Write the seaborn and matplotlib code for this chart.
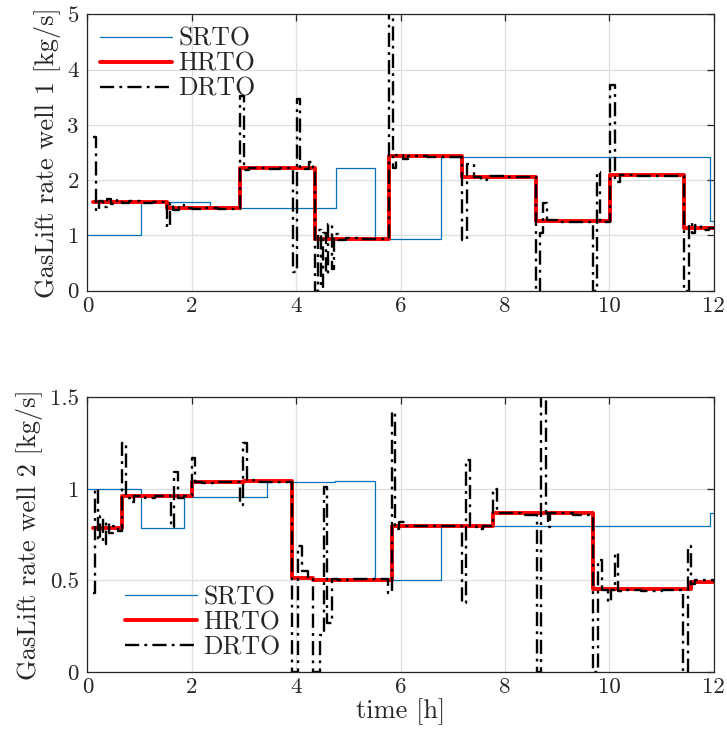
import numpy as np
import pandas as pd
import matplotlib
matplotlib.use("Agg")
import matplotlib.pyplot as plt
import seaborn as sns
from matplotlib.ticker import FuncFormatter

# ---------------- data: well 1 ----------------
srto1_t = [0, 1.02, 2.35, 4.76, 5.52, 6.77, 11.93, 12]
srto1_v = [1.0, 1.6, 1.49, 2.22, 0.94, 2.42, 1.26, 1.26]

hrto1_t = [0.1, 1.53, 2.93, 4.37, 5.77, 7.18, 8.59, 10.01, 11.43, 12]
hrto1_v = [1.6, 1.49, 2.22, 0.94, 2.43, 2.06, 1.26, 2.10, 1.13, 1.13]

drto1_t = [0.10, 0.16, 0.22, 0.30, 0.38, 0.46, 0.56, 0.66, 0.80, 1.00, 1.25,
           1.53, 1.58, 1.65, 1.75, 1.85, 2.00, 2.20, 2.50,
           2.93, 3.00, 3.10, 3.40, 3.70, 3.94, 4.02, 4.08, 4.25, 4.33,
           4.37, 4.42, 4.47, 4.52, 4.57, 4.62, 4.68, 4.73, 4.80, 4.95, 5.20,
           5.77, 5.85, 5.92, 6.05, 6.15, 6.50,
           7.18, 7.27, 7.40, 7.55, 7.65, 8.00,
           8.59, 8.68, 8.73, 8.80, 9.00,
           9.68, 9.76, 9.82,
           10.01, 10.10, 10.20, 10.50,
           11.43, 11.52, 11.58, 11.65, 11.75, 11.90, 12.0]
drto1_v = [2.78, 1.45, 1.62, 1.52, 1.66, 1.56, 1.64, 1.58, 1.62, 1.59, 1.61,
           1.16, 1.58, 1.46, 1.55, 1.50, 1.47, 1.50, 1.48,
           3.52, 2.18, 2.22, 2.20, 2.22, 0.34, 3.46, 2.20, 2.32, 2.20,
           0.0, 1.10, 0.05, 1.05, 0.30, 1.20, 0.40, 1.02, 0.92, 0.95, 0.94,
           5.60, 2.22, 2.45, 2.38, 2.43, 2.42,
           0.92, 2.30, 2.06, 2.01, 2.07, 2.06,
           0.0, 1.05, 1.58, 1.27, 1.25,
           0.0, 2.15, 1.25,
           3.72, 1.97, 2.10, 2.08,
           0.0, 1.22, 1.05, 1.18, 1.10, 1.13, 1.13]

# ---------------- data: well 2 ----------------
srto2_t = [0, 1.02, 1.86, 3.44, 4.75, 5.52, 6.77, 11.93, 12]
srto2_v = [1.0, 0.786, 0.956, 1.038, 1.044, 0.502, 0.798, 0.866, 0.866]

hrto2_t = [0.1, 0.67, 2.0, 3.0, 3.93, 4.33, 5.83, 7.78, 9.68, 11.57, 12]
hrto2_v = [0.786, 0.96, 1.04, 1.045, 0.515, 0.505, 0.80, 0.871, 0.451, 0.493, 0.493]

drto2_t = [0.10, 0.15, 0.20, 0.25, 0.30, 0.36, 0.42, 0.50, 0.58,
           0.67, 0.75, 0.82, 0.90, 1.10, 1.30,
           1.60, 1.67, 1.73, 1.85,
           2.00, 2.07, 2.20, 2.50,
           2.92, 2.98, 3.05, 3.20,
           3.93, 4.03, 4.12, 4.22, 4.33, 4.45, 4.53, 4.60, 4.68, 4.80, 5.00,
           5.76, 5.83, 5.90, 5.98, 6.10,
           7.17, 7.25, 7.33, 7.45, 7.52, 7.58, 7.78, 7.84, 8.00, 8.30,
           8.61, 8.70, 8.78, 8.82, 8.86, 9.00, 9.30,
           9.68, 9.78, 9.85, 9.97, 10.03, 10.10, 10.16, 10.30, 10.60, 11.00,
           11.42, 11.50, 11.56, 11.65, 12.0]
drto2_v = [0.43, 1.00, 0.72, 0.85, 0.70, 0.82, 0.76, 0.80, 0.77,
           1.25, 0.95, 0.93, 0.96, 0.95, 0.96,
           0.79, 1.09, 0.95, 0.96,
           1.17, 1.04, 1.03, 1.04,
           0.91, 1.25, 1.05, 1.04,
           0.0, 0.69, 0.55, 0.51, 0.0, 0.20, 1.01, 0.27, 0.51, 0.50, 0.51,
           0.43, 1.42, 0.78, 0.82, 0.80,
           0.375, 1.157, 0.80, 0.79, 0.78, 0.80, 1.00, 0.87, 0.87, 0.86,
           0.0, 1.60, 0.87, 0.79, 0.87, 0.87, 0.86,
           0.0, 0.61, 0.45, 0.38, 0.45, 0.65, 0.44, 0.45, 0.44, 0.45,
           0.0, 0.69, 0.48, 0.50, 0.49]

series_names = ["SRTO", "HRTO", "DRTO"]
ylabels = ["GasLift rate well 1 [kg/s]", "GasLift rate well 2 [kg/s]"]
xlabel = "time [h]"
xticks = [0, 2, 4, 6, 8, 10, 12]
yticks1 = [0, 1, 2, 3, 4, 5]
yticks2 = [0, 0.5, 1, 1.5]

# ---------------- style ----------------
sns.set_theme(style="white")
plt.rcParams["font.family"] = ["cmr10", "DejaVu Serif"]
plt.rcParams["mathtext.fontset"] = "cm"
plt.rcParams["axes.formatter.use_mathtext"] = True
plt.rcParams["axes.unicode_minus"] = False

colors = {"SRTO": "#0072BD", "HRTO": "#FF0000", "DRTO": "#000000"}
widths = {"SRTO": 0.9, "HRTO": 2.8, "DRTO": 1.7}
dashdot = (0, (6.0, 2.2, 1.2, 2.2))
styles = {"SRTO": "-", "HRTO": "-", "DRTO": dashdot}

fig = plt.figure(figsize=(7.27, 7.41), dpi=100)
ax1 = fig.add_axes([0.1201, 0.6077, 0.8617, 0.3730])
ax2 = fig.add_axes([0.1201, 0.0931, 0.8617, 0.3707])

panels = [
    (ax1, (srto1_t, srto1_v), (hrto1_t, hrto1_v), (drto1_t, drto1_v), (0, 5), yticks1),
    (ax2, (srto2_t, srto2_v), (hrto2_t, hrto2_v), (drto2_t, drto2_v), (0, 1.5), yticks2),
]

fmt = FuncFormatter(lambda v, p: f"{v:g}")

for i, (ax, s, h, d, ylim, yt) in enumerate(panels):
    for name, (tt, vv) in zip(series_names, [s, h, d]):
        df = pd.DataFrame({"t": tt, "v": vv})
        sns.lineplot(data=df, x="t", y="v", ax=ax, estimator=None, sort=False,
                     drawstyle="steps-post", color=colors[name],
                     linewidth=widths[name], linestyle=styles[name],
                     label=name, clip_on=True)
    ax.set_xlim(0, 12)
    ax.set_ylim(*ylim)
    ax.set_xticks(xticks)
    ax.set_yticks(yt)
    ax.xaxis.set_major_formatter(fmt)
    ax.yaxis.set_major_formatter(fmt)
    ax.grid(True, color="#dedede", linewidth=0.9)
    ax.set_axisbelow(True)
    for sp in ax.spines.values():
        sp.set_color("#262626")
        sp.set_linewidth(0.9)
    ax.tick_params(direction="in", top=True, right=True, length=5,
                   width=0.9, color="#262626", labelsize=16.5, labelcolor="#262626")
    ax.tick_params(axis="x", pad=4)
    ax.tick_params(axis="y", pad=6)
    ax.set_ylabel(ylabels[i], fontsize=19, color="#262626", labelpad=5)
    ax.set_xlabel("")

ax2.set_xlabel(xlabel, fontsize=19, color="#262626", labelpad=1)

leg1 = ax1.legend(loc="upper left", bbox_to_anchor=(0.0, 1.0), frameon=False,
                  fontsize=18.5, handlelength=2.8, handletextpad=0.25,
                  labelspacing=0.05, borderaxespad=0.1)
leg2 = ax2.legend(loc="lower left", bbox_to_anchor=(0.04, 0.0), frameon=False,
                  fontsize=18.5, handlelength=2.8, handletextpad=0.25,
                  labelspacing=0.05, borderaxespad=0.1)
for leg in (leg1, leg2):
    for txt in leg.get_texts():
        txt.set_color("#262626")

fig.savefig("out.png", dpi=100)
